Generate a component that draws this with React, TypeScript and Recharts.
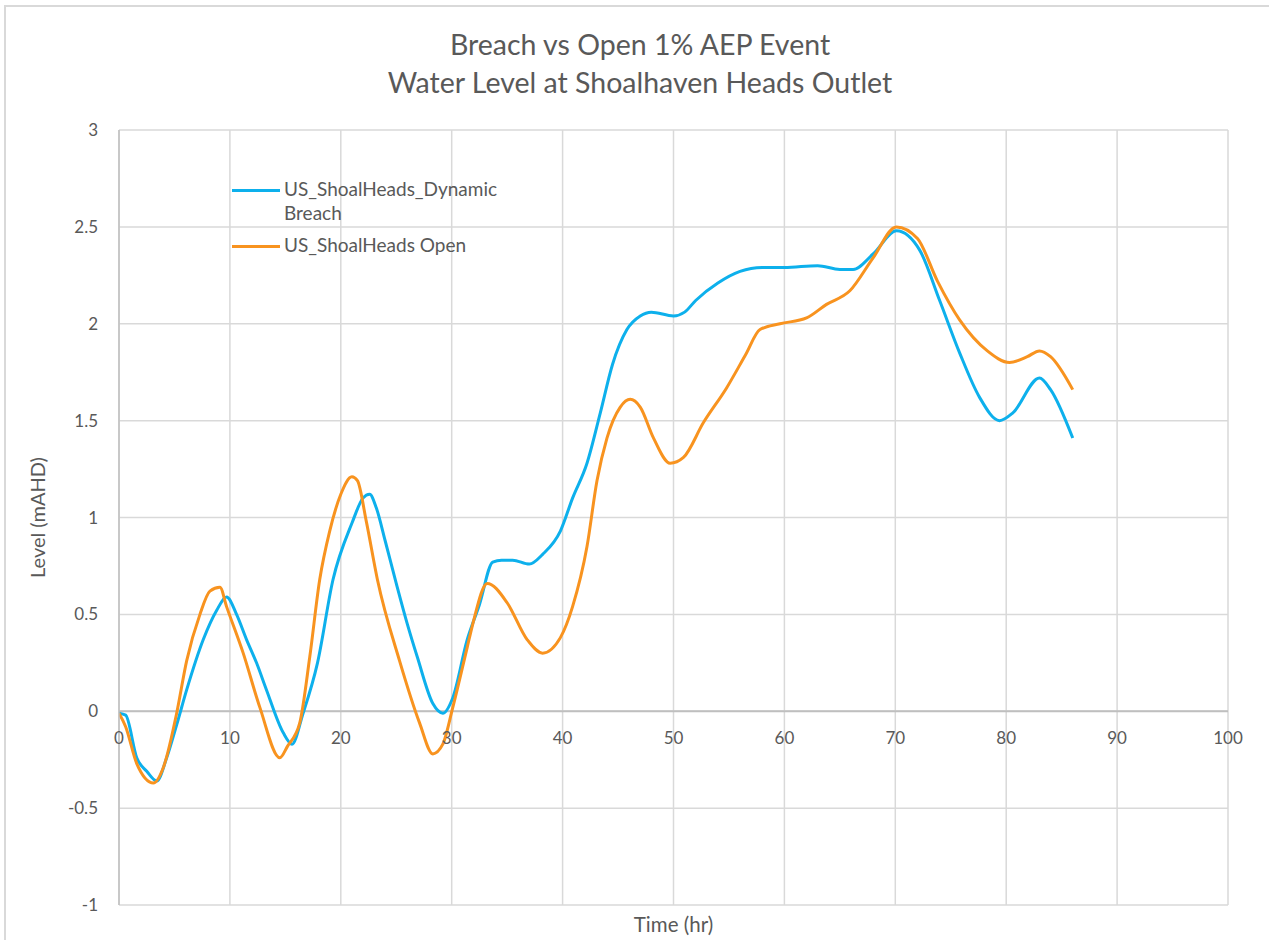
import React from "react";
import {
  LineChart,
  Line,
  XAxis,
  YAxis,
  CartesianGrid,
  ReferenceLine,
  Label,
} from "recharts";

// ---- Data ----
const breachTime = [
  0, 0.6, 1.6, 2.5, 3.4, 4.3, 5.2, 6.1, 7.6, 8.8, 9.7, 10.6, 11.5, 12.4, 13.3,
  14.8, 15.6, 16.6, 17.9, 19.3, 21, 22, 22.6, 23.2, 24, 25, 26, 26.9, 28.3,
  29.2, 30.1, 31.4, 32.5, 33.7, 34.5, 35.5, 37, 38.2, 39.8, 40.9, 42.2, 43.4,
  44.5, 45.8, 47, 48, 50, 51, 52, 54, 56, 58, 60, 63, 65, 66.2, 68, 70.1, 72.2,
  74, 75.8, 77.6, 79.4, 80.6, 83, 84, 86,
];
const breachLevel = [
  -0.01, -0.02, -0.24, -0.31, -0.36, -0.24, -0.07, 0.11, 0.37, 0.52, 0.59, 0.5,
  0.37, 0.25, 0.11, -0.11, -0.17, -0.01, 0.25, 0.68, 0.97, 1.1, 1.12, 1.05,
  0.88, 0.66, 0.45, 0.28, 0.04, -0.01, 0.07, 0.37, 0.55, 0.77, 0.78, 0.78,
  0.76, 0.81, 0.93, 1.1, 1.28, 1.54, 1.79, 1.97, 2.04, 2.06, 2.04, 2.06, 2.12,
  2.21, 2.27, 2.29, 2.29, 2.3, 2.28, 2.28, 2.36, 2.48, 2.38, 2.12, 1.85, 1.62,
  1.5, 1.54, 1.72, 1.66, 1.41,
];

const openTime = [
  0, 0.6, 1.6, 3.1, 4, 5.2, 6.1, 7.3, 8.2, 9.1, 9.7, 11.2, 12.7, 14.5, 15.2,
  16.3, 17.2, 18.1, 19, 20, 21, 21.5, 22.3, 23.3, 25.3, 27.1, 28.3, 29.2, 30.1,
  31.4, 31.9, 33.2, 35, 36.8, 38.2, 39.8, 40.9, 42.2, 43.1, 44, 45.2, 46.1, 47,
  48.2, 49.7, 50.9, 52.7, 54.8, 56.5, 57.8, 59.6, 62, 63.8, 65.9, 68, 70.1, 72,
  73.8, 75.8, 78.3, 80.3, 81.9, 83, 84, 86,
];
const openLevel = [
  -0.01, -0.08, -0.27, -0.37, -0.29, -0.01, 0.26, 0.5, 0.62, 0.64, 0.54, 0.3,
  0.02, -0.24, -0.18, -0.06, 0.28, 0.68, 0.93, 1.12, 1.21, 1.19, 0.98, 0.68,
  0.26, -0.06, -0.22, -0.17, 0.02, 0.33, 0.45, 0.66, 0.56, 0.37, 0.3, 0.38,
  0.54, 0.85, 1.19, 1.41, 1.57, 1.61, 1.57, 1.41, 1.28, 1.31, 1.49, 1.67, 1.84,
  1.97, 2.0, 2.03, 2.1, 2.17, 2.34, 2.5, 2.44, 2.22, 2.02, 1.86, 1.8, 1.83,
  1.86, 1.83, 1.66,
];

const xTicks = [0, 10, 20, 30, 40, 50, 60, 70, 80, 90, 100];
const yTicks = [-1, -0.5, 0, 0.5, 1, 1.5, 2, 2.5, 3];

const legendLines = [["US_ShoalHeads_Dynamic", "Breach"], ["US_ShoalHeads Open"]];
const seriesNames = ["US_ShoalHeads_Dynamic Breach", "US_ShoalHeads Open"];
const titleLines = ["Breach vs Open 1% AEP Event", "Water Level at Shoalhaven Heads Outlet"];

const breachData = breachTime.map((t, i) => ({ t, v: breachLevel[i] }));
const openData = openTime.map((t, i) => ({ t, v: openLevel[i] }));

// ---- Layout ----
const W = 1269;
const H = 940;
const M = { top: 130, right: 41, bottom: 0, left: 0 };
const X_AXIS_H = 35;
const Y_AXIS_W = 119;
const PLOT_H = H - M.top - M.bottom - X_AXIS_H;
const Y_MIN = -1;
const Y_MAX = 3;
const ZERO_OFFSET = (PLOT_H * (0 - Y_MIN)) / (Y_MAX - Y_MIN);

const FONT = "Lato, 'Open Sans', sans-serif";
const TEXT = "#595959";
const BLUE = "#0DB0EC";
const ORANGE = "#F8931F";
const COLORS = [BLUE, ORANGE];

const XTick = (props: any) => {
  const { x, y, payload } = props;
  return (
    <text
      x={x}
      y={y - ZERO_OFFSET + 33}
      textAnchor="middle"
      fill={TEXT}
      fontSize={17}
      fontFamily={FONT}
    >
      {payload.value}
    </text>
  );
};

export default function App() {
  return (
    <div
      style={{
        position: "fixed",
        left: 0,
        top: 0,
        width: W,
        height: H,
        overflow: "hidden",
        background: "#fff",
      }}
    >
      <div
        style={{
          position: "absolute",
          left: 4,
          top: 5,
          width: 1400,
          height: 1100,
          borderLeft: "2px solid #d9d9d9",
          borderTop: "2px solid #d9d9d9",
        }}
      />
      <div
        style={{
          position: "absolute",
          left: 0,
          top: 25,
          width: 1280,
          textAlign: "center",
          fontFamily: FONT,
          fontSize: 28.5,
          color: TEXT,
          lineHeight: "38px",
        }}
      >
        {titleLines.map((l) => (
          <div key={l}>{l}</div>
        ))}
      </div>
      <div style={{ position: "absolute", left: 0, top: 0 }}>
        <LineChart width={W} height={H} margin={M}>
          <CartesianGrid stroke="#d9d9d9" strokeWidth={1.5} />
          <XAxis
            type="number"
            dataKey="t"
            domain={[0, 100]}
            ticks={xTicks}
            allowDataOverflow
            axisLine={false}
            tickLine={false}
            tickSize={0}
            tickMargin={0}
            tick={<XTick />}
            height={X_AXIS_H}
            interval={0}
          >
            <Label
              value="Time (hr)"
              position="insideBottom"
              offset={8}
              fill={TEXT}
              fontSize={20.5}
              fontFamily={FONT}
            />
          </XAxis>
          <YAxis
            type="number"
            domain={[Y_MIN, Y_MAX]}
            ticks={yTicks}
            width={Y_AXIS_W}
            axisLine={{ stroke: "#bfbfbf", strokeWidth: 1.5 }}
            tickLine={false}
            tickSize={0}
            tickMargin={21}
            tick={{ fill: TEXT, fontSize: 17, fontFamily: FONT }}
            interval={0}
          >
            <Label
              value="Level (mAHD)"
              angle={-90}
              position="insideLeft"
              offset={38}
              fill={TEXT}
              fontSize={20}
              fontFamily={FONT}
              style={{ textAnchor: "middle" }}
            />
          </YAxis>
          <ReferenceLine y={0} stroke="#bfbfbf" strokeWidth={2} />
          <Line
            data={breachData}
            dataKey="v"
            name={seriesNames[0]}
            type="monotone"
            stroke={BLUE}
            strokeWidth={3}
            dot={false}
            isAnimationActive={false}
          />
          <Line
            data={openData}
            dataKey="v"
            name={seriesNames[1]}
            type="monotone"
            stroke={ORANGE}
            strokeWidth={3}
            dot={false}
            isAnimationActive={false}
          />
        </LineChart>
      </div>
      <div
        style={{
          position: "absolute",
          left: 232,
          top: 177,
          fontFamily: FONT,
          fontSize: 19,
          color: TEXT,
          lineHeight: "24px",
        }}
      >
        {legendLines.map((lines, i) => (
          <div key={i} style={{ display: "flex", alignItems: "flex-start", marginBottom: 8 }}>
            <div
              style={{
                width: 48,
                height: 3,
                background: COLORS[i],
                marginTop: 12,
                marginRight: 4,
              }}
            />
            <div>
              {lines.map((l, j) => (
                <div key={j}>{l}</div>
              ))}
            </div>
          </div>
        ))}
      </div>
    </div>
  );
}
